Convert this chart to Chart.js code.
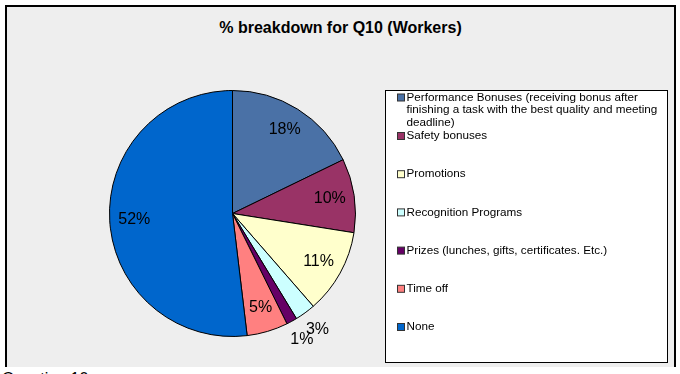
<!DOCTYPE html>
<html>
<head>
<meta charset="utf-8">
<script src="https://cdn.jsdelivr.net/npm/chart.js@4.4.1/dist/chart.umd.min.js"></script>
<style>
  body{margin:0;background:#fff;width:680px;height:374px;overflow:hidden;position:relative;font-family:"Liberation Sans",Arial,sans-serif;}
  #frame{position:absolute;left:5px;top:5px;width:667px;height:360px;background:#eeeeee;border:2px solid #000;border-bottom:none;}
  #title{position:absolute;left:5px;top:19px;width:671px;text-align:center;font-weight:bold;font-size:16px;color:#000;}
  #below{position:absolute;left:2px;top:371px;font-size:16px;line-height:16px;color:#000;}
  #wrap{position:absolute;left:0;top:0;width:680px;height:374px;}
</style>
</head>
<body>
<div id="frame"></div>
<div id="title">% breakdown for Q10 (Workers)</div>
<div id="below">Question 10</div>
<div id="wrap"><canvas id="pieChart"></canvas></div>
<script>
// data
const categories=['Performance Bonuses (receiving bonus after finishing a task with the best quality and meeting deadline)','Safety bonuses','Promotions','Recognition Programs','Prizes (lunches, gifts, certificates. Etc.)','Time off','None'];
const percents=[17.8,9.7,11.1,2.7,1.4,5.4,51.9];
const colors=['#4a71a6','#993366','#ffffcc','#ccffff','#660066','#ff8080','#0066cc'];

// % labels on / beside slices
const sliceLabels={
  id:'sliceLabels',
  afterDatasetsDraw(chart){
    const ctx=chart.ctx;
    const meta=chart.getDatasetMeta(0);
    ctx.save();
    ctx.font='16px "Liberation Sans", Arial, sans-serif';
    ctx.fillStyle='#000';
    ctx.textAlign='center';
    ctx.textBaseline='middle';
    meta.data.forEach(function(arc,i){
      const p=arc.getProps(['x','y','startAngle','endAngle','outerRadius'],true);
      const mid=(p.startAngle+p.endAngle)/2;
      const f=percents[i]<4?1.17:0.8;
      ctx.fillText(Math.round(percents[i])+'%',p.x+Math.cos(mid)*p.outerRadius*f,p.y+Math.sin(mid)*p.outerRadius*f);
    });
    ctx.restore();
  }
};

// boxed legend on the right
const boxLegend={
  id:'boxLegend',
  afterDraw(chart){
    const ctx=chart.ctx;
    ctx.save();
    ctx.fillStyle='#fff';
    ctx.fillRect(385,90,282,272);
    ctx.strokeStyle='#000';
    ctx.lineWidth=1;
    ctx.strokeRect(385.5,90.5,282,272);
    ctx.font='11.7px "Liberation Sans", Arial, sans-serif';
    ctx.textBaseline='middle';
    const maxW=256;
    let y=97.5;
    categories.forEach(function(txt,i){
      // wrap words
      const words=txt.split(' ');
      const lines=[];
      let cur='';
      words.forEach(function(w){
        const t=cur?cur+' '+w:w;
        if(ctx.measureText(t).width>maxW&&cur){lines.push(cur);cur=w;}else cur=t;
      });
      lines.push(cur);
      ctx.fillStyle=colors[i];
      ctx.fillRect(397.5,y-3.5,7,7);
      ctx.strokeStyle='#333';
      ctx.strokeRect(397.5,y-3.5,7,7);
      ctx.fillStyle='#000';
      lines.forEach(function(l,k){ctx.fillText(l,406.5,y+k*12.5);});
      y+= i==0?38.5:38.2;
    });
    ctx.restore();
  }
};

new Chart(document.getElementById('pieChart'),{
  type:'pie',
  data:{
    labels:categories,
    datasets:[{
      data:percents,
      backgroundColor:colors,
      borderColor:'#000',
      borderWidth:1
    }]
  },
  options:{
    responsive:true,
    maintainAspectRatio:false,
    animation:false,
    layout:{padding:{left:109,top:90,right:324,bottom:37}},
    plugins:{legend:{display:false},tooltip:{enabled:false}}
  },
  plugins:[sliceLabels,boxLegend]
});
</script>
</body>
</html>
